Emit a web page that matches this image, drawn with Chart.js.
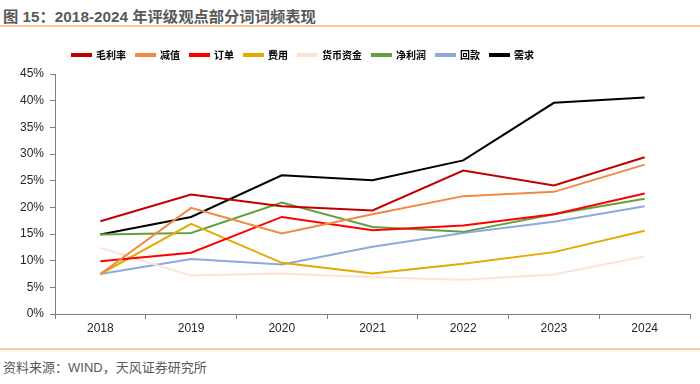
<!DOCTYPE html>
<html>
<head>
<meta charset="utf-8">
<script src="https://cdn.jsdelivr.net/npm/chart.js@4"></script>
<style>
	body { margin: 0; width: 700px; height: 384px; background: #fff; position: relative; overflow: hidden; font-family: 'Liberation Sans', 'Noto Sans CJK SC', sans-serif; }
	#title { position: absolute; left: 3px; top: 4px; font-size: 15.3px; font-weight: bold; color: #595959; }
	.rule { position: absolute; left: 0; width: 700px; height: 2px; background: #F9CB9C; }
	#source { position: absolute; left: 3px; top: 357px; font-size: 13px; color: #595959; }
	#box { position: absolute; left: 0; top: 30px; width: 700px; height: 320px; }
</style>
</head>
<body>
<div id="title">图 15：2018-2024 年评级观点部分词词频表现</div>
<div class="rule" style="top:25px"></div>
<div id="box"><canvas id="chart"></canvas></div>
<div class="rule" style="top:348px"></div>
<div id="source">资料来源：WIND，天风证券研究所</div>
<script>
const years = ['2018', '2019', '2020', '2021', '2022', '2023', '2024']

// 词频，单位 %
const maoLiLv = [17.4, 22.4, 20.2, 19.4, 26.9, 24.1, 29.4]
const jianZhi = [7.5, 19.9, 15.1, 18.7, 22.1, 22.9, 28.0]
const dingDan = [9.9, 11.5, 18.2, 15.7, 16.6, 18.7, 22.6]
const feiYong = [7.5, 16.9, 9.6, 7.6, 9.4, 11.6, 15.6]
const huoBiZiJin = [12.4, 7.2, 7.6, 6.9, 6.4, 7.4, 10.8]
const jingLiRun = [14.9, 15.2, 20.9, 16.3, 15.4, 18.7, 21.6]
const huiKuan = [7.5, 10.3, 9.3, 12.6, 15.2, 17.3, 20.2]
const xuQiu = [14.9, 18.2, 26.0, 25.1, 28.8, 39.6, 40.6]

const yTicks = [0, 5, 10, 15, 20, 25, 30, 35, 40, 45]

const series = [
	['毛利率', maoLiLv, '#C00000'],
	['减值', jianZhi, '#F08A42'],
	['订单', dingDan, '#FF0000'],
	['费用', feiYong, '#E3AB00'],
	['货币资金', huoBiZiJin, '#FBE3D6'],
	['净利润', jingLiRun, '#62A040'],
	['回款', huiKuan, '#8EA9DB'],
	['需求', xuQiu, '#000000'],
]

// 图例：固定高度，整体往右下挪一点
const legendPlace = {
	id: 'legendPlace',
	beforeInit(chart) {
		const fit = chart.legend.fit
		chart.legend.fit = function () {
			fit.bind(chart.legend)()
			this.height = 44
		}
	},
	afterLayout(chart) {
		chart.legend.left = 62
		chart.legend.top = 10
	},
}

const axisColor = '#7f7f7f'
const font = { family: "'Liberation Sans', 'Noto Sans CJK SC', sans-serif", size: 12 }

new Chart(document.getElementById('chart'), {
	type: 'line',
	data: {
		labels: years,
		datasets: series.map(([name, data, color]) => ({
			label: name,
			data: data,
			borderColor: color,
			backgroundColor: color,
			borderWidth: 2,
			pointRadius: 0,
			tension: 0,
		})),
	},
	options: {
		responsive: true,
		maintainAspectRatio: false,
		animation: false,
		layout: { padding: { left: 0, right: 10, top: 0, bottom: 0 } },
		scales: {
			x: {
				offset: true,
				grid: { drawOnChartArea: false, tickLength: 5, color: axisColor, offset: true },
				border: { color: axisColor, width: 1 },
				ticks: { color: '#262626', font: font, padding: 2, maxRotation: 0 },
				afterFit(scale) { scale.height = 36 },
			},
			y: {
				min: 0,
				max: 45,
				afterBuildTicks(scale) { scale.ticks = yTicks.map(v => ({ value: v })) },
				grid: { drawOnChartArea: false, tickLength: 5, color: axisColor },
				border: { color: axisColor, width: 1 },
				ticks: { color: '#262626', font: font, padding: 6, callback: v => v + '%' },
				afterFit(scale) { scale.width = 55 },
			},
		},
		plugins: {
			legend: {
				position: 'top',
				align: 'start',
				labels: {
					boxWidth: 19,
					boxHeight: 2,
					padding: 10,
					color: '#000',
					font: { family: "'Noto Sans CJK SC', sans-serif", size: 10, weight: 'bold' },
				},
			},
			tooltip: { enabled: false },
		},
	},
	plugins: [legendPlace],
})
</script>
</body>
</html>
